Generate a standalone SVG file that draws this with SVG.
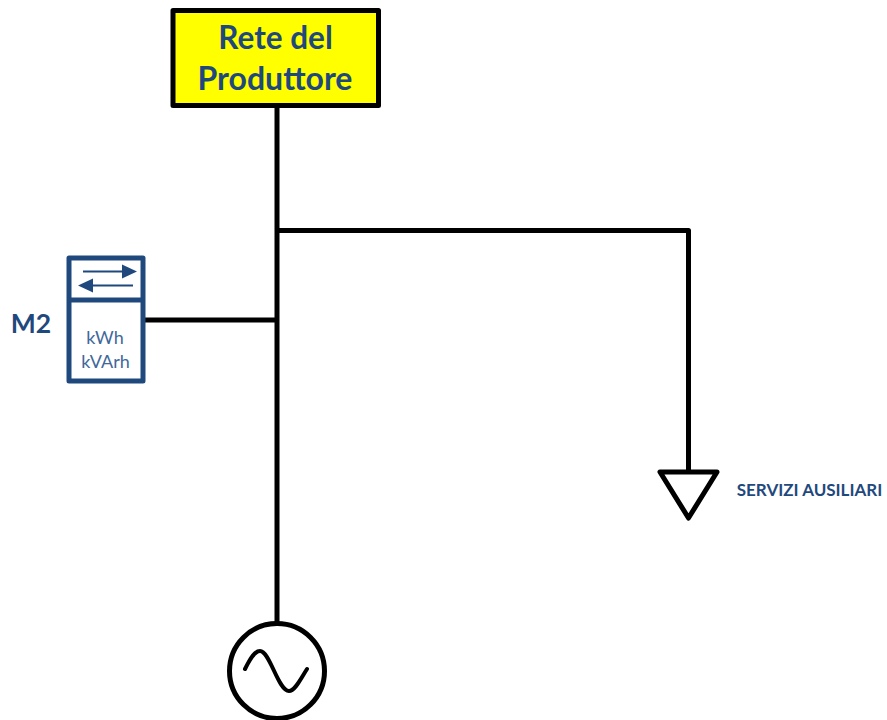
<svg xmlns="http://www.w3.org/2000/svg" width="887" height="720" viewBox="0 0 887 720">
<defs>
<style>
.t{font-family:"Lato","Open Sans",sans-serif;fill:#1f497d;text-anchor:middle}
.b{font-weight:700}
.l{fill:#41689a}
.k{fill:none;stroke:#000;stroke-width:5;stroke-linejoin:round}
.m{fill:none;stroke:#1f497d;stroke-width:5;stroke-linejoin:round}
</style>
</defs>
<rect width="887" height="720" fill="#fff"/>
<g id="connectors">
<path class="k" d="M277 107V623M277 230.500H688.500V472M145 320H277"/>
</g>
<g id="rete">
<rect x="173" y="10.500" width="205.500" height="95" fill="#ff0" stroke="#000" stroke-width="5" stroke-linejoin="round"/>
<text class="t b" x="275.500" y="49" font-size="31.500">Rete del</text>
<text class="t b" x="275" y="90" font-size="32">Produttore</text>
</g>
<g id="m2">
<rect class="m" x="69" y="258" width="74" height="123" fill="#fff"/>
<path class="m" d="M69 300H143"/>
<path d="M83 271.500H124" fill="none" stroke="#1f497d" stroke-width="2"/>
<path d="M122 264.500L137 271.500L122 278.500Z" fill="#1f497d"/>
<path d="M92 285.500H133" fill="none" stroke="#1f497d" stroke-width="2"/>
<path d="M93 278.500L78 285.500L93 292.500Z" fill="#1f497d"/>
<text class="t l" x="105" y="344" font-size="18">kWh</text>
<text class="t l" x="105.500" y="368" font-size="18">kVArh</text>
<text class="t b" x="31" y="333" font-size="26.500">M2</text>
</g>
<g id="servizi">
<path class="k" d="M660 472H717L688.500 518Z"/>
<text class="t b" x="809.500" y="496" font-size="17">SERVIZI AUSILIARI</text>
</g>
<g id="generatore">
<circle class="k" cx="277" cy="671" r="47.500"/>
<path d="M245 669C251 657 255 651 260 651C270 651 278 691 289 691C295 691 300 680 307 669" fill="none" stroke="#000" stroke-width="4" stroke-linecap="round"/>
</g>
</svg>
